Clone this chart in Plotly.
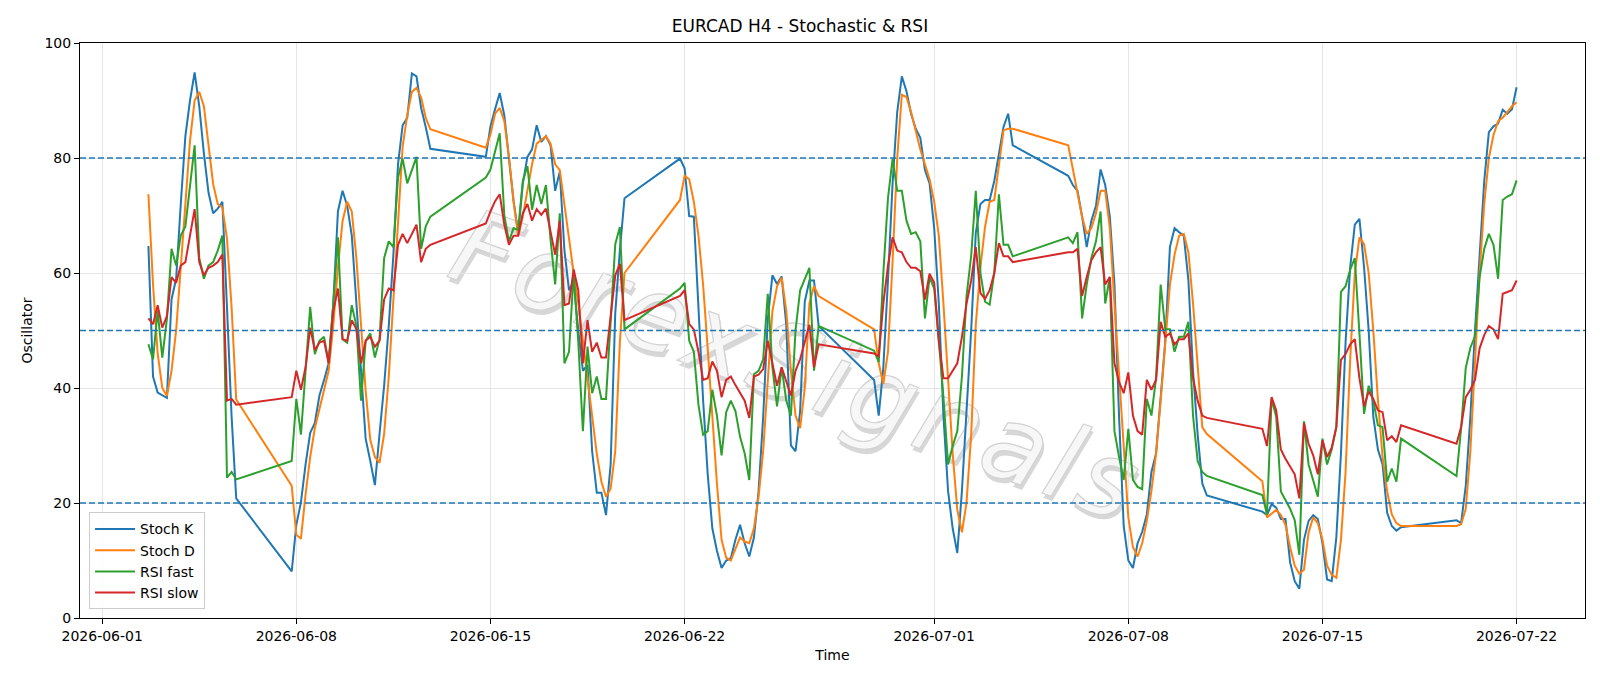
import base64
import pandas as pd
import plotly.graph_objects as go

TITLE = "EURCAD H4 - Stochastic & RSI"
WATERMARK = "ForexSignals"

# Trading sessions (H4 bars, weekend gaps between them)
SESSIONS = [
    ("2026-06-02 16:00", "2026-06-05 20:00"),
    ("2026-06-07 20:00", "2026-06-12 20:00"),
    ("2026-06-14 20:00", "2026-06-19 20:00"),
    ("2026-06-21 20:00", "2026-06-26 20:00"),
    ("2026-06-28 20:00", "2026-07-03 20:00"),
    ("2026-07-05 20:00", "2026-07-10 20:00"),
    ("2026-07-12 20:00", "2026-07-17 20:00"),
    ("2026-07-19 20:00", "2026-07-22 00:00"),
]

STOCH_K = [
    64.7, 42, 39.2, 38.7, 38.3, 55.4, 59, 72, 83.8, 90, 94.9, 89, 80.8, 74, 70.4, 71.2, 72.4, 54, 35, 20.8,
    8.1, 16.2, 20.1, 26.7, 32.2, 33.9, 38.7, 41.4, 44.3, 54.7, 70.7, 74.3, 71.7, 66.5, 54.7, 41.7, 31.2, 27.3, 23.1,
    32, 40.4, 50.8, 63.2, 78.9, 85.7, 87, 94.7, 94.2, 88.7, 85.4, 81.6,
    80.2, 85.5, 88.5, 91.3, 87.4, 80, 72.5, 67, 75.5, 80.2, 81.5, 85.7, 82.8, 83.8, 82.2, 74.3, 77.6, 64, 57, 58.5,
    50, 43, 44, 29, 21.8, 21.8, 17.9, 26.7, 53, 64, 73,
    79.9, 78.2, 69.9, 69.8, 54, 38, 25, 15.6, 11.7, 8.7, 10, 10.4, 13.6, 16.2, 13, 10.7, 14, 22, 35, 52,
    59.6, 58.1, 59.4, 51, 30, 29, 36, 55, 58.7, 58.7, 50.8,
    41.4, 35.2, 43.6, 58.7, 75.6, 88, 94.2, 91.6, 87.7, 85.1, 83.5, 77.9, 75.6, 67.8, 54.7, 35.2, 22.1, 15.6, 11.3,
    22.1, 35.2, 50, 67, 72, 72.7, 72.7, 76, 80.8, 85.4, 87.7, 82.2,
    76.9, 75.3, 74.3, 69.8, 64.5, 69.1, 71.7, 78, 75.3, 69.8, 58, 35, 16, 10, 8.7, 13, 15, 18, 25.4, 28.6,
    38.4, 48.2, 64.5, 67.8, 67.1, 66.5, 58.7, 43, 31.9, 23.4, 21.3,
    18.5, 17.9, 19.8, 19.2, 17.2, 17.2, 9.7, 6.4, 5.1, 13.6, 16.9, 17.9, 17.2, 13, 6.7, 6.4, 14, 28.6, 48, 61,
    68.4, 69.4, 61, 50, 35, 29.3, 26.7, 18.3, 16, 15.2, 15.8,
    17, 16.5, 23, 35, 50, 64, 76, 84.5, 85.5, 86, 88.4, 87.7, 88.5, 92.3,
]

STOCH_D = [
    73.7, 58, 46, 40, 38.6, 43, 50, 61, 73, 83, 90, 91.5, 89, 82, 75.5, 72, 71.4, 66, 54, 38,
    23, 14.5, 13.8, 21.5, 28, 33, 36.5, 40, 43, 51, 61, 69, 72.4, 70.7, 62.5, 51, 39.5, 31, 28,
    27, 32, 42, 54.7, 69, 82, 87.5, 91.5, 92.2, 90.5, 87, 85,
    81.8, 84.1, 87.7, 88.7, 86.4, 80.2, 72.4, 66.5, 69.8, 74.3, 78.9, 82.5, 83.1, 83.8, 82.5, 78.9, 77.9, 71.7, 65.2, 60,
    54.7, 48.2, 41.7, 35.2, 28.6, 23.7, 21.1, 22.5, 29, 48, 60,
    72.7, 76.9, 76.3, 72.4, 66.5, 58, 46.9, 35.2, 23.4, 13.6, 10.5, 10, 12, 14, 13.3, 13, 15.6, 21, 29, 42,
    53.4, 57.7, 59.2, 53.4, 43, 35.2, 33, 40, 54.7, 57.7, 56,
    50.2, 44.3, 40.7, 46.3, 62, 80, 91, 90.6, 88, 84.8, 81.5, 78.9, 76.3, 72.4, 66.5, 54.7, 41.7, 28.6, 18.8, 14.9,
    20.1, 31.9, 51, 61, 68, 72.4, 72.7, 78.9, 84.8, 85.1, 85.1,
    82.2, 78.2, 74.3, 69.8, 66.8, 67.8, 70.4, 74.3, 74.3, 67.8, 54.7, 41.7, 28.6, 17.5, 12.3, 10.7, 13, 16.9, 22.1, 28.6,
    37.8, 48.2, 58, 63.2, 66.5, 66.8, 63.6, 54.7, 44.3, 33.2, 32,
    23.8, 17.5, 18.1, 18.8, 17.9, 16.2, 12.3, 9.1, 7.7, 8.4, 14.9, 17.5, 16.5, 13.6, 9.1, 7.5, 7, 13.6, 25.4, 45,
    60, 66.2, 65, 60, 50, 38, 28, 22, 18, 16.5, 16,
    16, 16.3, 19, 29, 45, 60, 72, 80, 84, 86.4, 87, 88, 89, 89.7,
]

RSI_FAST = [
    47.6, 45, 53.4, 45.3, 52, 64.2, 61.3, 66.5, 68.1, 75.6, 82.2, 62.6, 59, 61.3, 61.9, 63.9, 66.5, 24.4, 25.4, 24.1,
    27.3, 38.1, 31.9, 43, 54.1, 45.9, 48.2, 48.9, 44.3, 54.7, 66.2, 48.5, 47.9, 54.4, 50.8, 37.8, 48.2, 49.5, 45.3,
    48.5, 62.6, 65.5, 64.5, 76.6, 79.9, 75.6, 77.9, 80.2, 64.2, 68.1, 69.8,
    76.6, 78, 81, 84.3, 70, 65.5, 67.8, 67.5, 76, 78.6, 71, 75.3, 72, 75.3, 65.8, 58, 70.4, 44.3, 46.3, 60,
    48, 32.5, 47.2, 39.1, 42, 38.1, 38.1, 52, 65, 68, 50.2,
    57.3, 58.3, 48.2, 46.3, 37.1, 31.9, 32.5, 39.7, 35.2, 28.3, 35.8, 37.8, 36, 31.5, 28.6, 24, 42.4, 43, 45, 56.4,
    43.6, 36.8, 43.6, 37.8, 35.2, 50, 57, 59, 60.9, 43, 50.8,
    46.5, 44.5, 60, 73, 79.9, 74.3, 74.3, 69.1, 66.8, 67.1, 65.5, 52.1, 59.3, 57.3, 48.2, 38.4, 26.7, 29.9, 32.5, 42,
    56, 63, 74.3, 60, 55, 54.5, 60, 73.7, 64.9, 64.9, 62.9,
    66.2, 65.2, 67.1, 52.1, 58, 62.6, 65.5, 70.7, 54.7, 59.3, 32.5, 28, 24, 32.9, 24, 22.8, 22.4, 38.1, 35.2, 41.7,
    58, 50.2, 50.2, 46.3, 48.9, 48.9, 51.5, 35.2, 27.3, 25.4, 24.7,
    21.4, 18, 38.1, 35, 22, 20.5, 19, 17, 11, 34.2, 26.7, 23.9, 21.1, 31.2, 26.7, 29.3, 33.2, 56.7, 57.7, 60.6,
    62.6, 49.5, 35.5, 40.4, 37.8, 33.5, 33.2, 23.7, 26, 23.7, 31.2,
    24.7, 33, 43.5, 47, 49, 59.3, 64.2, 66.8, 64.9, 59, 72.7, 73.3, 73.7, 76.1,
]

RSI_SLOW = [
    52.1, 51.1, 54.4, 50.5, 52.5, 59.3, 58.3, 61.3, 61.9, 66.5, 71.1, 61.9, 59.6, 60.9, 61.3, 61.9, 63.2, 37.8, 38.1, 37.1,
    38.4, 43, 39.7, 43.6, 50.5, 46.6, 47.9, 48.2, 44.3, 53.4, 57.3, 48.5, 48.2, 51.8, 50.2, 44.3, 48.2, 48.9, 47.2,
    48.2, 55.4, 57.3, 57, 64.9, 66.8, 65.2, 66.8, 68.4, 61.9, 64.2, 64.9,
    68.6, 70.7, 72.5, 73.7, 68.4, 64.9, 66.5, 66.5, 70.4, 72, 69.1, 71.1, 70.1, 71.2, 67.1, 63.2, 69.1, 54.4, 54.7, 60.6,
    57, 44.3, 51.8, 46.3, 47.9, 45.3, 45.3, 52, 59.6, 61.6, 51.8,
    56, 57, 51.1, 50.2, 46.3, 41.4, 41.7, 44.6, 43, 38.4, 41.4, 42, 40.5, 39.1, 37.8, 34.8, 42, 42.3, 43.3, 48.2,
    44.3, 40.4, 43.6, 41, 38.7, 43, 45, 48, 51, 43.6, 47.6,
    46, 45.5, 54.7, 61.3, 66.2, 63.9, 63.6, 61.9, 60.9, 60.9, 60.3, 55.4, 59.9, 58.3, 48.2, 41.7, 41.7, 43, 44.3, 48.9,
    54.7, 58.7, 64.5, 56.5, 55.5, 57, 60, 65.2, 62.9, 62.9, 61.9,
    63.6, 63.6, 64.2, 56, 59.3, 62.2, 63.6, 64.5, 58, 59.3, 44.3, 41, 39.1, 42.7, 35.2, 32.5, 31.9, 41.4, 39.7, 41.4,
    51.5, 48.9, 49.5, 47.6, 48.5, 48.5, 49.5, 41.7, 37.8, 35.2, 34.8,
    32.9, 29.9, 38.4, 36.1, 29.3, 27.7, 26.3, 25, 20.8, 33.9, 30.3, 28.3, 25, 30.9, 28, 29.6, 33.2, 44.9, 45.9, 47.6,
    48.5, 41.7, 36.8, 39.4, 38.1, 36.1, 35.8, 30.9, 31.6, 30.6, 33.5,
    30.3, 33.2, 38.4, 39.7, 41.4, 46.9, 49.2, 50.8, 50.2, 48.5, 56.4, 56.7, 57, 58.7,
]

LEVELS = [20, 50, 80]
X_TICKS = ["2026-06-01", "2026-06-08", "2026-06-15", "2026-06-22",
           "2026-07-01", "2026-07-08", "2026-07-15", "2026-07-22"]
Y_TICKS = [0, 20, 40, 60, 80, 100]

times = []
for start, end in SESSIONS:
    times += list(pd.date_range(start, end, freq="4h"))

SERIES = [
    ("Stoch K", STOCH_K, "#1f77b4"),
    ("Stoch D", STOCH_D, "#ff7f0e"),
    ("RSI fast", RSI_FAST, "#2ca02c"),
    ("RSI slow", RSI_SLOW, "#d62728"),
]
for name, vals, _ in SERIES:
    if len(vals) != len(times):
        raise ValueError(f"{name}: {len(vals)} values vs {len(times)} times")

fig = go.Figure()
for name, vals, color in SERIES:
    fig.add_trace(go.Scatter(x=times, y=vals, mode="lines", name=name,
                             line=dict(color=color, width=2)))

for lv in LEVELS:
    fig.add_hline(y=lv, line=dict(color="#1f77b4", width=1.3, dash="6px,3px"), layer="above")

FONT = "DejaVu Sans"

# watermark drawn beneath the data as an inline SVG image
W, H = 1505, 575
cx, cy = 715, 330
svg = (
    f'<svg xmlns="http://www.w3.org/2000/svg" width="{W}" height="{H}" viewBox="0 0 {W} {H}">'
    f'<g transform="rotate(20 {cx} {cy})" font-family="DejaVu Sans" font-style="italic" '
    f'font-size="104" text-anchor="middle" dominant-baseline="middle" letter-spacing="5">'
    f'<text x="{cx + 3}" y="{cy + 4}" fill="#9a9a9a" fill-opacity="0.4">{WATERMARK}</text>'
    f'<text x="{cx}" y="{cy}" fill="#f7f7f7" stroke="#d2d2d2" stroke-width="1.2">{WATERMARK}</text>'
    f'</g></svg>'
)
svg_uri = "data:image/svg+xml;base64," + base64.b64encode(svg.encode("utf-8")).decode("ascii")
fig.add_layout_image(source=svg_uri, xref="paper", yref="paper", x=0, y=1,
                     sizex=1, sizey=1, xanchor="left", yanchor="top",
                     sizing="stretch", layer="below", opacity=1)

fig.update_layout(
    width=1600, height=686,
    paper_bgcolor="white", plot_bgcolor="rgba(0,0,0,0)",
    margin=dict(l=80, r=15, t=43, b=68),
    title=dict(text=TITLE, x=0.5, xanchor="center", y=0.962, yanchor="middle",
               font=dict(family=FONT, size=17, color="black")),
    font=dict(family=FONT, size=14, color="black"),
    showlegend=True,
    legend=dict(x=0.006, y=0.015, xanchor="left", yanchor="bottom",
                bgcolor="rgba(255,255,255,0.85)", bordercolor="#cccccc", borderwidth=1,
                font=dict(family=FONT, size=14), itemwidth=40, tracegroupgap=0),
)
fig.update_xaxes(
    range=["2026-05-31 04:48", "2026-07-24 11:12"],
    tickmode="array", tickvals=X_TICKS, ticktext=X_TICKS,
    tickfont=dict(family=FONT, size=14),
    showgrid=True, gridcolor="#e5e5e5", gridwidth=1,
    showline=True, linecolor="black", linewidth=1, mirror=True,
    ticks="outside", ticklen=5, tickcolor="black",
    title=dict(text="Time", font=dict(family=FONT, size=14), standoff=7),
    zeroline=False,
)
fig.update_yaxes(
    range=[0, 100], tickmode="array", tickvals=Y_TICKS,
    tickfont=dict(family=FONT, size=14),
    showgrid=True, gridcolor="#e5e5e5", gridwidth=1,
    showline=True, linecolor="black", linewidth=1, mirror=True,
    ticks="outside", ticklen=5, tickcolor="black",
    title=dict(text="Oscillator", font=dict(family=FONT, size=14), standoff=8),
    zeroline=False,
)

fig.write_html("out.html")
